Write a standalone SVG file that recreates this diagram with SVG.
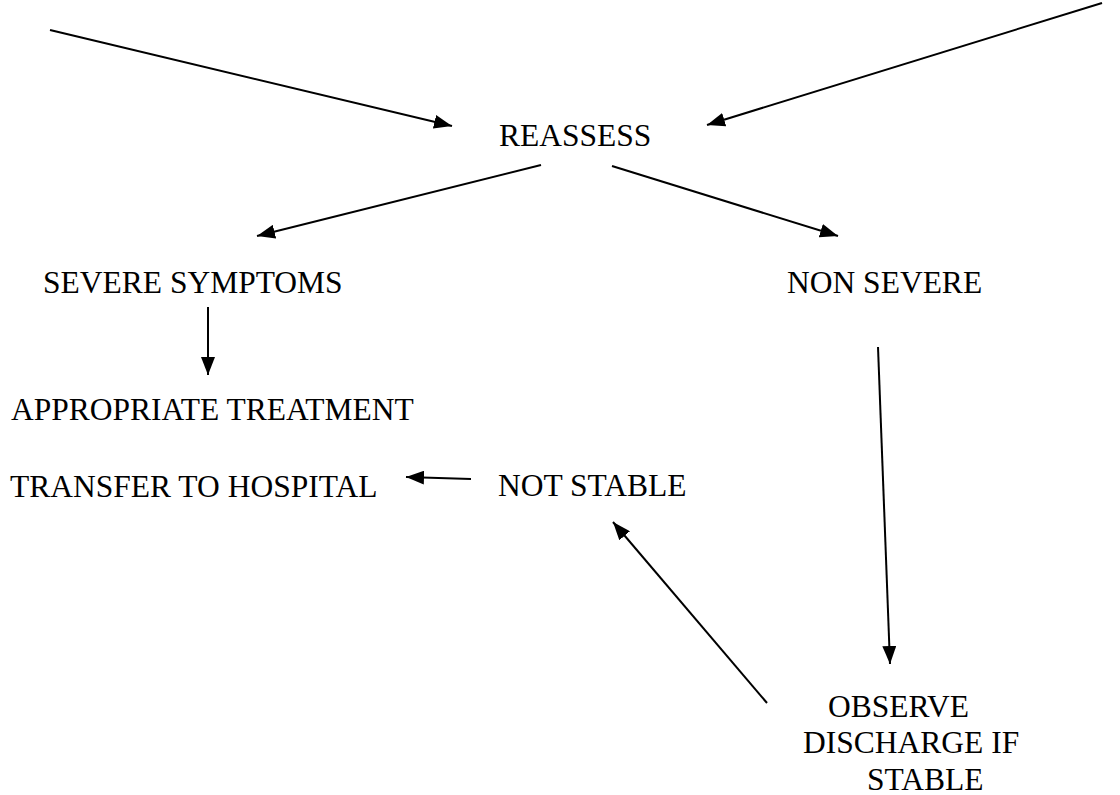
<svg xmlns="http://www.w3.org/2000/svg" width="1120" height="795" viewBox="0 0 1120 795">
<style>
.c line{stroke:#000;stroke-width:2;marker-end:url(#ah)}
</style>
<defs>
<marker id="ah" viewBox="0 0 18 14" refX="18" refY="7" markerWidth="18" markerHeight="14" orient="auto" markerUnits="userSpaceOnUse">
<path d="M0,0L18,7L0,14z" fill="#000"/>
</marker>
</defs>
<rect width="1120" height="795" fill="#fff"/>
<g class="c" id="connectors">
<line x1="50" y1="30" x2="452" y2="126"/>
<line x1="1102" y1="3" x2="707" y2="125"/>
<line x1="541" y1="165" x2="257" y2="236"/>
<line x1="612" y1="166" x2="838" y2="236"/>
<line x1="208" y1="307" x2="208" y2="375"/>
<line x1="471" y1="479" x2="406" y2="477"/>
<line x1="878" y1="347" x2="890" y2="664"/>
<line x1="767" y1="703" x2="613" y2="522"/>
</g>
<g font-family="Liberation Serif, Times New Roman, serif" font-size="31.5" fill="#000">
<g id="reassess"><text x="499" y="146">REASSESS</text></g>
<g id="severe"><text x="43" y="293">SEVERE SYMPTOMS</text></g>
<g id="nonsevere"><text x="787" y="293">NON SEVERE</text></g>
<g id="treatment"><text x="11" y="420">APPROPRIATE TREATMENT</text></g>
<g id="transfer"><text x="10" y="497">TRANSFER TO HOSPITAL</text></g>
<g id="notstable"><text x="498" y="496">NOT STABLE</text></g>
<g id="observe"><text x="828" y="717">OBSERVE</text><text x="803" y="753">DISCHARGE IF</text><text x="867" y="790">STABLE</text></g>
</g>
</svg>
